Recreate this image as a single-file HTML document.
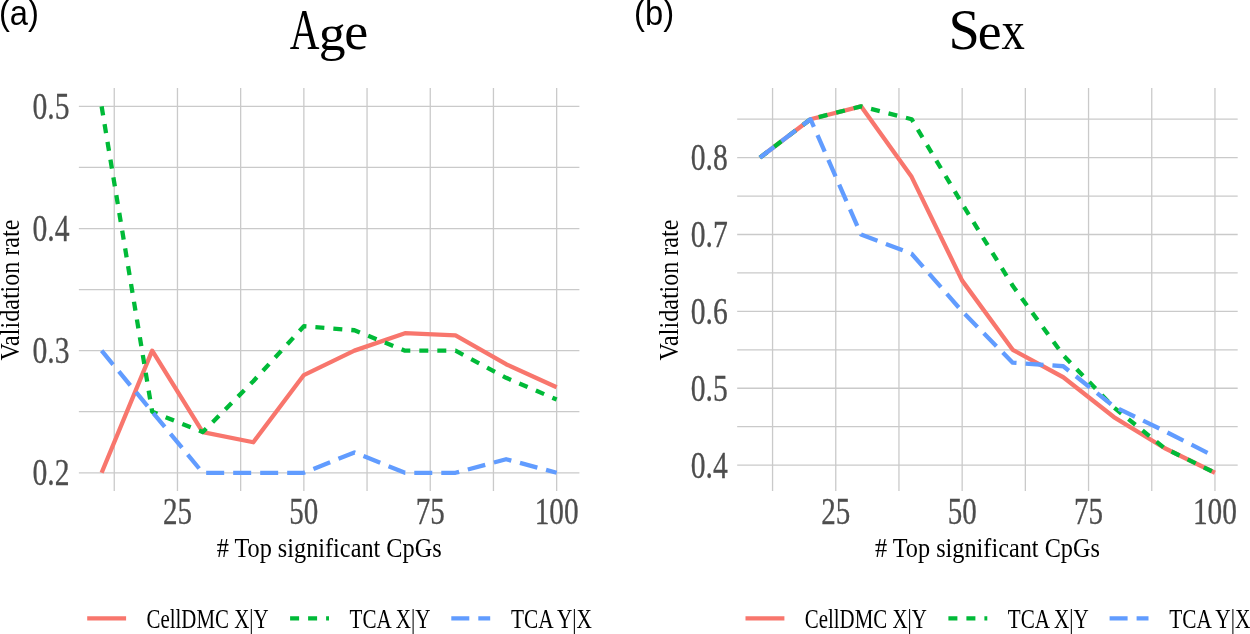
<!DOCTYPE html>
<html><head><meta charset="utf-8"><style>
html,body{margin:0;padding:0;background:#fff;}
body{width:1250px;height:634px;overflow:hidden;}
svg{display:block;will-change:transform;}
</style></head><body>
<svg width="1250" height="634" viewBox="0 0 1250 634">
<rect width="1250" height="634" fill="#fff"/>
<g stroke="#cacaca" stroke-width="1.3" fill="none"><line x1="78.87" y1="472.78" x2="579.40" y2="472.78"/><line x1="78.87" y1="411.72" x2="579.40" y2="411.72"/><line x1="78.87" y1="350.65" x2="579.40" y2="350.65"/><line x1="78.87" y1="289.59" x2="579.40" y2="289.59"/><line x1="78.87" y1="228.53" x2="579.40" y2="228.53"/><line x1="78.87" y1="167.46" x2="579.40" y2="167.46"/><line x1="78.87" y1="106.40" x2="579.40" y2="106.40"/><line x1="114.26" y1="88.08" x2="114.26" y2="491.10"/><line x1="177.46" y1="88.08" x2="177.46" y2="491.10"/><line x1="240.66" y1="88.08" x2="240.66" y2="491.10"/><line x1="303.86" y1="88.08" x2="303.86" y2="491.10"/><line x1="367.05" y1="88.08" x2="367.05" y2="491.10"/><line x1="430.25" y1="88.08" x2="430.25" y2="491.10"/><line x1="493.45" y1="88.08" x2="493.45" y2="491.10"/><line x1="556.65" y1="88.08" x2="556.65" y2="491.10"/></g><polyline points="101.62,472.78 152.18,350.65 202.74,432.11 253.30,442.25 303.86,375.08 354.41,350.65 404.97,333.19 455.53,335.39 506.09,364.21 556.65,387.29" fill="none" stroke="#F8766D" stroke-width="4.3" stroke-linejoin="round" stroke-linecap="butt"/><polyline points="101.62,106.40 152.18,411.72 202.74,432.11 253.30,381.19 303.86,326.23 354.41,330.26 404.97,350.65 455.53,350.65 506.09,377.77 556.65,399.50" fill="none" stroke="#00BA38" stroke-width="4.3" stroke-linejoin="round" stroke-linecap="butt" stroke-dasharray="9 9"/><polyline points="101.62,350.65 152.18,411.72 202.74,472.78 253.30,472.78 303.86,472.78 354.41,452.39 404.97,472.78 455.53,472.78 506.09,459.22 556.65,472.78" fill="none" stroke="#619CFF" stroke-width="4.3" stroke-linejoin="round" stroke-linecap="butt" stroke-dasharray="18 9"/><text transform="translate(289.79,49.30) scale(0.4119,0.5636)" font-family="Liberation Serif, serif" font-size="100" fill="#000">A</text><text transform="translate(318.64,49.50) scale(0.5367,0.5100)" font-family="Liberation Serif, serif" font-size="100" fill="#000">g</text><text transform="translate(344.34,49.17) scale(0.5405,0.5292)" font-family="Liberation Serif, serif" font-size="100" fill="#000">e</text><text x="69.50" y="485.18" font-family="Liberation Serif, serif" font-size="37" text-anchor="end" textLength="37" lengthAdjust="spacingAndGlyphs" fill="#4d4d4d" stroke="#4d4d4d" stroke-width="0.3">0.2</text><text x="69.50" y="363.05" font-family="Liberation Serif, serif" font-size="37" text-anchor="end" textLength="37" lengthAdjust="spacingAndGlyphs" fill="#4d4d4d" stroke="#4d4d4d" stroke-width="0.3">0.3</text><text x="69.50" y="240.93" font-family="Liberation Serif, serif" font-size="37" text-anchor="end" textLength="37" lengthAdjust="spacingAndGlyphs" fill="#4d4d4d" stroke="#4d4d4d" stroke-width="0.3">0.4</text><text x="69.50" y="118.80" font-family="Liberation Serif, serif" font-size="37" text-anchor="end" textLength="37" lengthAdjust="spacingAndGlyphs" fill="#4d4d4d" stroke="#4d4d4d" stroke-width="0.3">0.5</text><text x="177.46" y="523.8" font-family="Liberation Serif, serif" font-size="37" text-anchor="middle" textLength="29" lengthAdjust="spacingAndGlyphs" fill="#4d4d4d" stroke="#4d4d4d" stroke-width="0.3">25</text><text x="303.86" y="523.8" font-family="Liberation Serif, serif" font-size="37" text-anchor="middle" textLength="29" lengthAdjust="spacingAndGlyphs" fill="#4d4d4d" stroke="#4d4d4d" stroke-width="0.3">50</text><text x="430.25" y="523.8" font-family="Liberation Serif, serif" font-size="37" text-anchor="middle" textLength="29" lengthAdjust="spacingAndGlyphs" fill="#4d4d4d" stroke="#4d4d4d" stroke-width="0.3">75</text><text x="556.65" y="523.8" font-family="Liberation Serif, serif" font-size="37" text-anchor="middle" textLength="44" lengthAdjust="spacingAndGlyphs" fill="#4d4d4d" stroke="#4d4d4d" stroke-width="0.3">100</text><text x="329.13" y="557" font-family="Liberation Serif, serif" font-size="27" text-anchor="middle" textLength="225" lengthAdjust="spacingAndGlyphs" fill="#000"># Top significant CpGs</text><text transform="translate(19.20,290.09) rotate(-90)" x="0" y="0" font-family="Liberation Serif, serif" font-size="27" text-anchor="middle" textLength="141" lengthAdjust="spacingAndGlyphs" fill="#000">Validation rate</text><line x1="87.20" y1="618.4" x2="126.10" y2="618.4" stroke="#F8766D" stroke-width="4.3"/><line x1="290.10" y1="618.4" x2="329.00" y2="618.4" stroke="#00BA38" stroke-width="4.3" stroke-dasharray="9 9"/><line x1="451.30" y1="618.4" x2="490.20" y2="618.4" stroke="#619CFF" stroke-width="4.3" stroke-dasharray="18 9"/><text x="146.50" y="627.9" font-family="Liberation Serif, serif" font-size="27" textLength="122" lengthAdjust="spacingAndGlyphs" fill="#000">CellDMC X|Y</text><text x="349.50" y="627.9" font-family="Liberation Serif, serif" font-size="27" textLength="81" lengthAdjust="spacingAndGlyphs" fill="#000">TCA X|Y</text><text x="511.00" y="627.9" font-family="Liberation Serif, serif" font-size="27" textLength="81" lengthAdjust="spacingAndGlyphs" fill="#000">TCA Y|X</text><g stroke="#cacaca" stroke-width="1.3" fill="none"><line x1="737.17" y1="465.10" x2="1237.70" y2="465.10"/><line x1="737.17" y1="426.67" x2="1237.70" y2="426.67"/><line x1="737.17" y1="388.23" x2="1237.70" y2="388.23"/><line x1="737.17" y1="349.80" x2="1237.70" y2="349.80"/><line x1="737.17" y1="311.37" x2="1237.70" y2="311.37"/><line x1="737.17" y1="272.94" x2="1237.70" y2="272.94"/><line x1="737.17" y1="234.51" x2="1237.70" y2="234.51"/><line x1="737.17" y1="196.07" x2="1237.70" y2="196.07"/><line x1="737.17" y1="157.64" x2="1237.70" y2="157.64"/><line x1="737.17" y1="119.21" x2="1237.70" y2="119.21"/><line x1="772.56" y1="88.08" x2="772.56" y2="491.10"/><line x1="835.76" y1="88.08" x2="835.76" y2="491.10"/><line x1="898.96" y1="88.08" x2="898.96" y2="491.10"/><line x1="962.16" y1="88.08" x2="962.16" y2="491.10"/><line x1="1025.35" y1="88.08" x2="1025.35" y2="491.10"/><line x1="1088.55" y1="88.08" x2="1088.55" y2="491.10"/><line x1="1151.75" y1="88.08" x2="1151.75" y2="491.10"/><line x1="1214.95" y1="88.08" x2="1214.95" y2="491.10"/></g><polyline points="759.92,157.64 810.48,119.21 861.04,106.37 911.60,176.86 962.16,280.62 1012.71,349.80 1063.27,377.24 1113.83,417.06 1164.39,448.03 1214.95,472.78" fill="none" stroke="#F8766D" stroke-width="4.3" stroke-linejoin="round" stroke-linecap="butt"/><polyline points="759.92,157.64 810.48,119.21 861.04,106.37 911.60,119.21 962.16,203.76 1012.71,285.77 1063.27,355.26 1113.83,407.45 1164.39,448.03 1214.95,472.78" fill="none" stroke="#00BA38" stroke-width="4.3" stroke-linejoin="round" stroke-linecap="butt" stroke-dasharray="9 9"/><polyline points="759.92,157.64 810.48,119.21 861.04,234.51 911.60,253.72 962.16,311.37 1012.71,362.64 1063.27,366.25 1113.83,406.45 1164.39,430.97 1214.95,456.57" fill="none" stroke="#619CFF" stroke-width="4.3" stroke-linejoin="round" stroke-linecap="butt" stroke-dasharray="18 9"/><text transform="translate(948.58,49.43) scale(0.5631,0.5699)" font-family="Liberation Serif, serif" font-size="100" fill="#000">S</text><text transform="translate(977.85,49.17) scale(0.5378,0.5333)" font-family="Liberation Serif, serif" font-size="100" fill="#000">e</text><text transform="translate(1001.43,49.40) scale(0.4667,0.5413)" font-family="Liberation Serif, serif" font-size="100" fill="#000">x</text><text x="727.80" y="477.50" font-family="Liberation Serif, serif" font-size="37" text-anchor="end" textLength="37" lengthAdjust="spacingAndGlyphs" fill="#4d4d4d" stroke="#4d4d4d" stroke-width="0.3">0.4</text><text x="727.80" y="400.63" font-family="Liberation Serif, serif" font-size="37" text-anchor="end" textLength="37" lengthAdjust="spacingAndGlyphs" fill="#4d4d4d" stroke="#4d4d4d" stroke-width="0.3">0.5</text><text x="727.80" y="323.77" font-family="Liberation Serif, serif" font-size="37" text-anchor="end" textLength="37" lengthAdjust="spacingAndGlyphs" fill="#4d4d4d" stroke="#4d4d4d" stroke-width="0.3">0.6</text><text x="727.80" y="246.91" font-family="Liberation Serif, serif" font-size="37" text-anchor="end" textLength="37" lengthAdjust="spacingAndGlyphs" fill="#4d4d4d" stroke="#4d4d4d" stroke-width="0.3">0.7</text><text x="727.80" y="170.04" font-family="Liberation Serif, serif" font-size="37" text-anchor="end" textLength="37" lengthAdjust="spacingAndGlyphs" fill="#4d4d4d" stroke="#4d4d4d" stroke-width="0.3">0.8</text><text x="835.76" y="523.8" font-family="Liberation Serif, serif" font-size="37" text-anchor="middle" textLength="29" lengthAdjust="spacingAndGlyphs" fill="#4d4d4d" stroke="#4d4d4d" stroke-width="0.3">25</text><text x="962.16" y="523.8" font-family="Liberation Serif, serif" font-size="37" text-anchor="middle" textLength="29" lengthAdjust="spacingAndGlyphs" fill="#4d4d4d" stroke="#4d4d4d" stroke-width="0.3">50</text><text x="1088.55" y="523.8" font-family="Liberation Serif, serif" font-size="37" text-anchor="middle" textLength="29" lengthAdjust="spacingAndGlyphs" fill="#4d4d4d" stroke="#4d4d4d" stroke-width="0.3">75</text><text x="1214.95" y="523.8" font-family="Liberation Serif, serif" font-size="37" text-anchor="middle" textLength="44" lengthAdjust="spacingAndGlyphs" fill="#4d4d4d" stroke="#4d4d4d" stroke-width="0.3">100</text><text x="987.43" y="557" font-family="Liberation Serif, serif" font-size="27" text-anchor="middle" textLength="225" lengthAdjust="spacingAndGlyphs" fill="#000"># Top significant CpGs</text><text transform="translate(677.50,290.09) rotate(-90)" x="0" y="0" font-family="Liberation Serif, serif" font-size="27" text-anchor="middle" textLength="141" lengthAdjust="spacingAndGlyphs" fill="#000">Validation rate</text><line x1="745.50" y1="618.4" x2="784.40" y2="618.4" stroke="#F8766D" stroke-width="4.3"/><line x1="948.40" y1="618.4" x2="987.30" y2="618.4" stroke="#00BA38" stroke-width="4.3" stroke-dasharray="9 9"/><line x1="1109.60" y1="618.4" x2="1148.50" y2="618.4" stroke="#619CFF" stroke-width="4.3" stroke-dasharray="18 9"/><text x="804.80" y="627.9" font-family="Liberation Serif, serif" font-size="27" textLength="122" lengthAdjust="spacingAndGlyphs" fill="#000">CellDMC X|Y</text><text x="1007.80" y="627.9" font-family="Liberation Serif, serif" font-size="27" textLength="81" lengthAdjust="spacingAndGlyphs" fill="#000">TCA X|Y</text><text x="1169.30" y="627.9" font-family="Liberation Serif, serif" font-size="27" textLength="81" lengthAdjust="spacingAndGlyphs" fill="#000">TCA Y|X</text><text x="-1.1" y="24.9" font-family="Liberation Sans, sans-serif" font-size="34.5" textLength="40.0" lengthAdjust="spacingAndGlyphs" fill="#000">(a)</text><text x="634.1" y="24.9" font-family="Liberation Sans, sans-serif" font-size="34.5" textLength="40.0" lengthAdjust="spacingAndGlyphs" fill="#000">(b)</text>
</svg>
</body></html>
